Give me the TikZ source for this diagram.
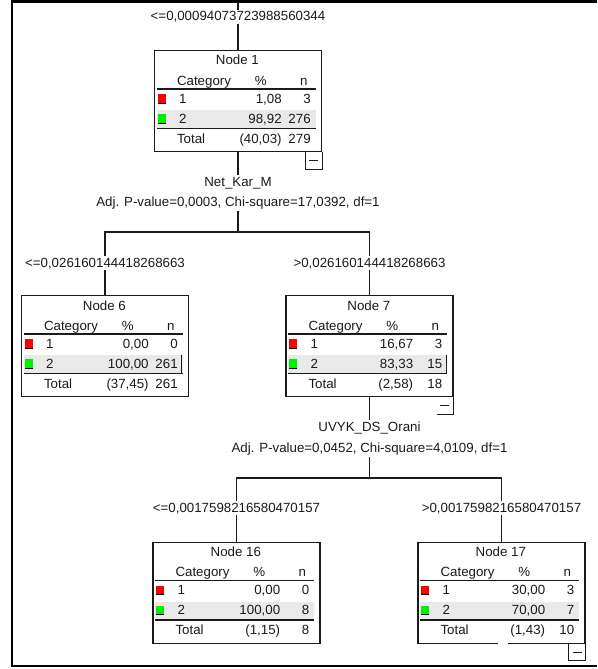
\documentclass[tikz,border=0pt]{standalone}
\usepackage{fontspec}
\setmainfont{Liberation Sans}
\usetikzlibrary{calc}
\definecolor{rowgray}{HTML}{E9E9E9}
\definecolor{ink}{HTML}{1A1A1A}
\definecolor{catred}{HTML}{FF0000}
\definecolor{catgreen}{HTML}{00F000}
\tikzset{
  treebox/.style={draw=ink, line width=1.3pt, minimum width=167pt, minimum height=101pt, inner sep=0pt, anchor=north, fill=white},
  lbl/.style={inner sep=1.5pt, anchor=base, font=\fontsize{13.3}{15}\selectfont, text=ink},
  txt/.style={inner sep=0pt, font=\fontsize{13.3}{15}\selectfont, text=ink},
  conn/.style={draw=ink, line width=1.3pt},
  sepline/.style={draw=ink, line width=1.1pt},
  frameline/.style={draw=black, line width=2.5pt},
}
\newcommand{\cattab}[8]{%
  \begin{scope}[shift={(#1.north west)}]
    \fill[rowgray] (3,60) rectangle (162,78);
    \draw[sepline] (3,39) -- (162,39);
    \draw[sepline] (3,78.5) -- (162,78.5);
    \node[txt,anchor=base] (#1-ti) at (83.5,15) {#2};
    \node[txt,anchor=base west] (#1-hc) at (23,35) {Category};
    \node[txt,anchor=base] (#1-hp) at (107,35) {\%};
    \node[txt,anchor=base] (#1-hn) at (150,35) {n};
    \fill[catred] (4,44) rectangle (12,53);
    \draw[black,line width=1pt] (4,53) -- (12,53);
    \node[txt,anchor=base west] (#1-c1) at (25,53) {1};
    \node[txt,anchor=base east] (#1-p1) at (128,53) {#3};
    \node[txt,anchor=base east] (#1-n1) at (157,53) {#4};
    \fill[catgreen] (4,64) rectangle (12,73);
    \draw[black,line width=1pt] (4,73) -- (12,73);
    \node[txt,anchor=base west] (#1-c2) at (25,73) {2};
    \node[txt,anchor=base east] (#1-p2) at (128,73) {#5};
    \node[txt,anchor=base east] (#1-n2) at (157,73) {#6};
    \node[txt,anchor=base west] (#1-tl) at (23,93) {Total};
    \node[txt,anchor=base east] (#1-pt) at (128,93) {#7};
    \node[txt,anchor=base east] (#1-nt) at (157,93) {#8};
  \end{scope}}
\newcommand{\minusbox}[1]{%
  \begin{scope}[shift={(#1.south east)}]
    \draw[conn] (-17,0) -- (-17,17) -- (0,17) -- (0,0);
    \draw[conn] (-13,8.5) -- (-4,8.5);
  \end{scope}}
\newcommand{\minusboxopen}[1]{%
  \begin{scope}[shift={(#1.south east)}]
    \draw[conn] (-17,17) -- (0,17) -- (0,0);
    \draw[conn] (-14,8.5) -- (-5,8.5);
  \end{scope}}
\newcommand{\focusline}[1]{%
  \begin{scope}[shift={(#1.north west)}]
    \draw[sepline] (161,60) -- (161,79);
  \end{scope}}
\begin{document}
\begin{tikzpicture}[x=1pt,y=-1pt]
\useasboundingbox (0,0) rectangle (597,669);
% frame
\draw[frameline] (597,1.5) -- (12,1.5) -- (12,666) -- (597,666);

% boxes
\node[treebox] (n1) at (238,50) {};
\node[treebox] (n6) at (105,295) {};
\node[treebox] (n7) at (369.5,295) {};
\node[treebox] (n16) at (236.5,541.5) {};
\node[treebox] (n17) at (501.5,541.5) {};

\cattab{n1}{Node 1}{1,08}{3}{98,92}{276}{(40,03)}{279}
\cattab{n6}{Node 6}{0,00}{0}{100,00}{261}{(37,45)}{261}
\cattab{n7}{Node 7}{16,67}{3}{83,33}{15}{(2,58)}{18}
\cattab{n16}{Node 16}{0,00}{0}{100,00}{8}{(1,15)}{8}
\cattab{n17}{Node 17}{30,00}{3}{70,00}{7}{(1,43)}{10}
\focusline{n6}
\focusline{n7}
\minusbox{n1}
\minusboxopen{n7}
\minusbox{n17}
\draw[white,line width=2pt] (498,642.5) -- (508,642.5);

% labels and connectors
\coordinate (top) at (238,2.5);
\node[lbl] (l0) at (238,20.7) {<=0,00094073723988560344};
\draw[conn] (top) -- (l0.north);
\draw[conn] (l0.south) -- (n1.north);

\node[lbl] (s1a) at (238,186) {Net\_Kar\_M};
\node[lbl] (s1b) at (238,206.7) {Adj. P-value=0,0003, Chi-square=17,0392, df=1};
\draw[conn] (n1.south) -- (s1a.north);
\coordinate (j1) at (238,232);
\draw[conn] (s1b.south) -- (j1);
\node[lbl] (l6) at (105,267) {<=0,026160144418268663};
\node[lbl] (l7) at (369.5,267) {>0,026160144418268663};
\draw[conn] (l6.north) |- (j1) -| (l7.north);
\draw[conn] (l6.south) -- (n6.north);
\draw[conn] (l7.south) -- (n7.north);

\node[lbl] (s7a) at (369.5,431.7) {UVYK\_DS\_Orani};
\node[lbl] (s7b) at (369.5,452.7) {Adj. P-value=0,0452, Chi-square=4,0109, df=1};
\draw[conn] (n7.south) -- (s7a.north);
\coordinate (j7) at (369.5,478);
\draw[conn] (s7b.south) -- (j7);
\node[lbl] (l16) at (236.5,512) {<=0,0017598216580470157};
\node[lbl] (l17) at (501.5,512) {>0,0017598216580470157};
\draw[conn] (l16.north) |- (j7) -| (l17.north);
\draw[conn] (l16.south) -- (n16.north);
\draw[conn] (l17.south) -- (n17.north);
\end{tikzpicture}
\end{document}
